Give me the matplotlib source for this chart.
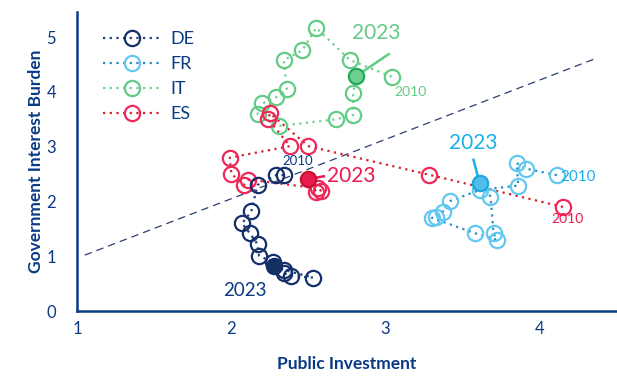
import matplotlib.pyplot as plt
from matplotlib.lines import Line2D

# ── Data (2010 → 2023) ────────────────────────────────────────────────────────
COUNTRIES = ["DE", "FR", "IT", "ES"]

de_x = [2.34, 2.29, 2.17, 2.13, 2.07, 2.12, 2.17, 2.18, 2.27, 2.34, 2.39, 2.53, 2.34, 2.28]
de_y = [2.48, 2.48, 2.30, 1.82, 1.60, 1.42, 1.22, 1.01, 0.89, 0.69, 0.64, 0.61, 0.75, 0.82]

fr_x = [4.11, 3.91, 3.85, 3.86, 3.61, 3.42, 3.37, 3.33, 3.30, 3.58, 3.72, 3.70, 3.68, 3.61]
fr_y = [2.48, 2.60, 2.70, 2.29, 2.21, 2.01, 1.81, 1.72, 1.70, 1.42, 1.30, 1.42, 2.09, 2.33]

it_x = [3.04, 2.77, 2.55, 2.46, 2.34, 2.36, 2.29, 2.20, 2.17, 2.31, 2.68, 2.79, 2.79, 2.81]
it_y = [4.28, 4.58, 5.17, 4.76, 4.58, 4.06, 3.90, 3.79, 3.59, 3.38, 3.50, 3.58, 3.98, 4.29]

es_x = [4.15, 3.28, 2.50, 2.25, 2.24, 2.38, 1.99, 2.00, 2.08, 2.11, 2.56, 2.58, 2.55, 2.50]
es_y = [1.90, 2.49, 3.01, 3.61, 3.50, 3.01, 2.80, 2.51, 2.30, 2.40, 2.24, 2.20, 2.18, 2.41]

trend_x = [1.05, 4.37]
trend_y = [1.02, 4.62]

# ── Style ─────────────────────────────────────────────────────────────────────
NAVY = "#0a3a84"
FONT = "Lato"

STYLE = {
    #       edge,      line,      fill,      fill edge
    "DE": ("#13306b", "#1c3e7a", "#15305f", "#13306b"),
    "FR": ("#62c8f0", "#1f8ec8", "#4fbfea", "#1ea6dc"),
    "IT": ("#62cb86", "#6fd08f", "#6fcf8f", "#22a85a"),
    "ES": ("#f0285a", "#d8202c", "#ea1a50", "#c4102f"),
}

DATA = {"DE": (de_x, de_y), "FR": (fr_x, fr_y), "IT": (it_x, it_y), "ES": (es_x, es_y)}

plt.rcParams["font.family"] = [FONT, "DejaVu Sans"]

fig = plt.figure(figsize=(6.17, 3.81), dpi=100)
ax = fig.add_axes([77 / 617, 70 / 381, 540 / 617, 299 / 381])

ax.plot(trend_x, trend_y, color="#2a3f6e", lw=0.9, ls=(0, (6, 4)), zorder=1)

for c in ["IT", "ES", "DE", "FR"]:
    xs, ys = DATA[c]
    edge, line, fill, fedge = STYLE[c]
    ax.plot(xs, ys, color=line, lw=1.6, ls=(0, (1, 2)), zorder=2)
    ax.plot(xs[:-1], ys[:-1], ls="none", marker="o", ms=11, mfc="none",
            mec=edge, mew=1.6, zorder=3)
    ax.plot(xs[-1:], ys[-1:], ls="none", marker="o", ms=11, mfc=fill,
            mec=fedge, mew=1.6, zorder=4)

# ── Annotations ──────────────────────────────────────────────────────────────
ax.plot([it_x[-1], 3.02], [it_y[-1], 4.69], color=STYLE["IT"][0], lw=1.8, zorder=3)
ax.text(2.94, 5.07, "2023", color=STYLE["IT"][0], fontsize=15, ha="center", va="center")
ax.text(3.16, 4.00, "2010", color=STYLE["IT"][0], fontsize=10, ha="center", va="center")

ax.plot([es_x[-1], 2.60], [es_y[-1], es_y[-1] + 0.05], color=STYLE["ES"][2], lw=1.8, zorder=3)
ax.text(2.62, 2.46, "2023", color=STYLE["ES"][2], fontsize=15, ha="left", va="center")
ax.text(4.18, 1.68, "2010", color=STYLE["ES"][2], fontsize=10, ha="center", va="center")

ax.plot([fr_x[-1], 3.57], [fr_y[-1], 2.76], color="#1ab0e8", lw=1.8, zorder=3)
ax.text(3.57, 3.07, "2023", color="#1ab0e8", fontsize=15, ha="center", va="center")
ax.text(4.13, 2.45, "2010", color="#1ab0e8", fontsize=11, ha="left", va="center")

ax.text(2.43, 2.74, "2010", color=NAVY, fontsize=9.5, ha="center", va="center")
ax.text(2.09, 0.38, "2023", color=NAVY, fontsize=13.5, ha="center", va="center")

# ── Axes ─────────────────────────────────────────────────────────────────────
ax.set_xlim(1, 4.5)
ax.set_ylim(0, 5.46)
ax.set_xticks([1, 2, 3, 4])
ax.set_yticks([0, 1, 2, 3, 4, 5])
for s in ["top", "right"]:
    ax.spines[s].set_visible(False)
for s in ["left", "bottom"]:
    ax.spines[s].set_color(NAVY)
    ax.spines[s].set_linewidth(1.8)
ax.tick_params(length=0, labelsize=12, labelcolor=NAVY)
ax.tick_params(axis="x", pad=7)
ax.tick_params(axis="y", pad=15)
ax.set_xlabel("Public Investment", color=NAVY, fontsize=12.5, fontweight="bold", labelpad=14)
ax.set_ylabel("Government Interest Burden", color=NAVY, fontsize=12.5, fontweight="bold", labelpad=2)

handles = [Line2D([0], [0], color=STYLE[c][1], lw=1.6, ls=(0, (1, 2)), marker="o",
                  ms=11, mfc="none", mec=STYLE[c][0], mew=1.6) for c in COUNTRIES]
leg = ax.legend(handles, COUNTRIES, loc="upper left", bbox_to_anchor=(0.035, 0.96),
                frameon=False, fontsize=13, handlelength=3.2, labelspacing=0.5,
                handletextpad=0.5, borderaxespad=0)
for t in leg.get_texts():
    t.set_color(NAVY)

fig.savefig("out.png", dpi=100)
